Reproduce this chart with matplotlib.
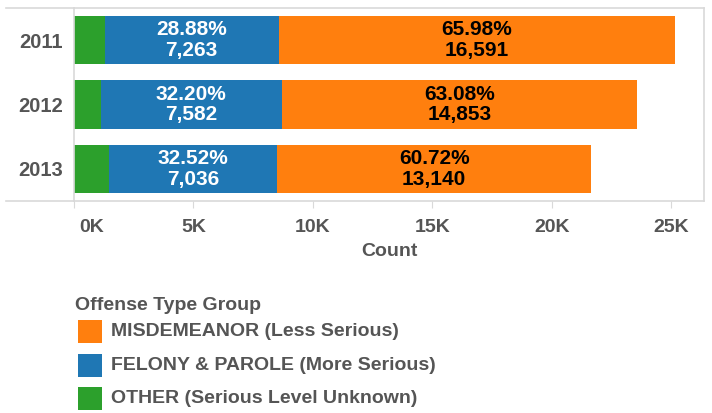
import matplotlib
matplotlib.use("Agg")
import matplotlib.pyplot as plt
import matplotlib.transforms as mtransforms
from matplotlib.patches import Rectangle
from matplotlib.lines import Line2D

plt.rcParams['font.family'] = ['Liberation Sans', 'DejaVu Sans']

years = ["2011", "2012", "2013"]
other = [1295, 1112, 1460]
felony = [7263, 7582, 7036]
misdemeanor = [16591, 14853, 13140]
felony_pct = ["28.88%", "32.20%", "32.52%"]
misd_pct = ["65.98%", "63.08%", "60.72%"]
xticks = [0, 5000, 10000, 15000, 20000, 25000]
xtick_labels = ["0K", "5K", "10K", "15K", "20K", "25K"]
legend_labels = ["MISDEMEANOR (Less Serious)", "FELONY & PAROLE (More Serious)",
                 "OTHER (Serious Level Unknown)"]

C_OR, C_BL, C_GR = "#FF7F0E", "#1F77B4", "#2CA02C"
GRAY = "#555555"
FRAME = "#d9d9d9"

W, H = 712, 413
fig = plt.figure(figsize=(W / 100, H / 100), dpi=100)
ax = fig.add_axes([74 / W, 1 - 201 / H, (704 - 74) / W, (201 - 8) / H])

ypos = list(range(len(years)))
bh = 0.75
ax.barh(ypos, other, height=bh, color=C_GR)
ax.barh(ypos, felony, left=other, height=bh, color=C_BL)
lefts = [o + f for o, f in zip(other, felony)]
ax.barh(ypos, misdemeanor, left=lefts, height=bh, color=C_OR)

for i in ypos:
    cx = other[i] + felony[i] / 2
    ax.text(cx, i, f"{felony_pct[i]}\n{felony[i]:,}", ha="center", va="center",
            color="white", fontsize=15, fontweight="bold", linespacing=1.12)
    mx = lefts[i] + misdemeanor[i] / 2
    ax.text(mx, i, f"{misd_pct[i]}\n{misdemeanor[i]:,}", ha="center", va="center",
            color="black", fontsize=15, fontweight="bold", linespacing=1.12)

ax.set_xlim(0, 26360)
ax.set_ylim(2.5, -0.5)
ax.set_yticks(ypos)
ax.set_yticklabels(years, fontsize=14.5, fontweight="bold", color=GRAY)
ax.tick_params(axis="y", length=0, pad=8)
ax.set_xticks(xticks)
ax.set_xticklabels(xtick_labels, fontsize=14, fontweight="bold", color=GRAY)
ax.tick_params(axis="x", length=5, color=FRAME, pad=8, direction="out")
ax.set_xlabel("Count", fontsize=14, fontweight="bold", color=GRAY, labelpad=5)

# first tick label sits to the right of its tick
first = ax.get_xticklabels()[0]
first.set_horizontalalignment("left")
first.set_transform(first.get_transform() +
                    mtransforms.ScaledTranslation(5 / 100, 0, fig.dpi_scale_trans))

for s in ax.spines.values():
    s.set_color(FRAME)
    s.set_linewidth(1.2)

# extend top and bottom frame lines to the left (row header area)
ext = -(74 - 6) / (704 - 74)
for yy in (0, 1):
    ax.add_line(Line2D([ext, 0], [yy, yy], transform=ax.transAxes, color=FRAME,
                       lw=1.2, clip_on=False))

# legend
fig.text(75 / W, 1 - 305 / H, "Offense Type Group", fontsize=14, fontweight="bold",
         color=GRAY, ha="left", va="center")
colors = [C_OR, C_BL, C_GR]
for k, (lab, c) in enumerate(zip(legend_labels, colors)):
    cy = 331.5 + 33.5 * k
    fig.add_artist(Rectangle((78 / W, 1 - (cy + 11.5) / H), 24 / W, 23 / H,
                             transform=fig.transFigure, color=c, lw=0))
    fig.text(111 / W, 1 - cy / H, lab, fontsize=14, fontweight="bold",
             color=GRAY, ha="left", va="center")

fig.savefig("out.png", dpi=100)
